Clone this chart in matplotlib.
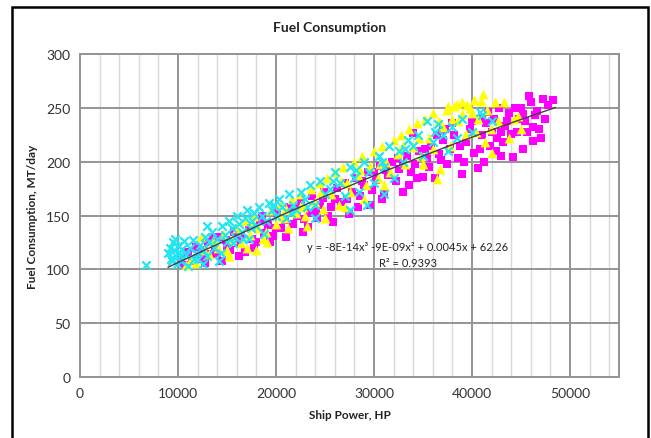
import numpy as np
import matplotlib
matplotlib.use("Agg")
from matplotlib import pyplot as plt
from matplotlib.patches import Rectangle
from matplotlib.ticker import MultipleLocator

plt.rcParams["font.family"] = ["Lato", "DejaVu Sans"]

# ship power (HP) / fuel consumption (MT/day)
mag_x = [10300, 10600, 11000, 11400, 11800, 12100, 12400, 12800, 13100, 13400,
         13800, 14200, 14500, 14900, 15300, 15700, 16100, 16400, 16800, 17200,
         17600, 18000, 18400, 18800, 19200, 19700, 20100, 20500, 20900, 21300,
         21700, 22100, 22500, 22900, 23300, 23700, 24100, 24500, 24900, 25300,
         25800, 26200, 26600, 27000, 27400, 27800, 28200, 28600, 29000, 29400,
         29800, 30200, 30600, 31000, 31400, 31800, 32200, 32600, 33000, 33400,
         33800, 34200, 34600, 35000, 35400, 35800, 36200, 36600, 37000, 37400,
         37800, 38200, 38600, 39000, 39400, 39800, 40200, 40600, 41000, 41400,
         41800, 42200, 42600, 43000, 43400, 43800, 44200, 44600, 45000, 45400,
         45800, 46200, 46600, 47000, 47400, 47800, 48300,
         40000, 40800, 41200, 41600, 42000, 42400, 42800, 43200, 43600, 44000,
         44400, 44800, 45200, 45600, 46000, 46400, 46800, 47200, 39200, 38000,
         37200, 36400, 35600, 34400, 33600, 32400, 30800, 29600, 28400, 27200,
         25600, 24200, 22800, 21000, 19400, 17800, 16200, 13600, 12600, 34000,
         37000, 22000, 23500, 26000, 28800, 31200, 33000, 35200, 38800, 41000,
         43000, 45200, 46200, 20000, 18600, 15000, 14000, 24800, 30000, 36800]
mag_y = [110, 104, 116, 108, 121, 112, 118, 106, 125, 114,
         120, 130, 108, 127, 118, 135, 124, 131, 116, 140,
         128, 125, 145, 134, 141, 131, 152, 138, 146, 158,
         142, 150, 162, 147, 139, 168, 155, 160, 172, 150,
         144, 176, 163, 180, 151, 172, 185, 168, 178, 190,
         174, 183, 196, 170, 188, 200, 182, 193, 172, 205,
         190, 198, 210, 186, 203, 215, 185, 207, 220, 198,
         212, 225, 203, 189, 218, 230, 208, 194, 225, 236,
         215, 240, 222, 205, 233, 245, 204, 228, 250, 238,
         261, 232, 247, 222, 240, 253, 257,
         238, 212, 200, 246, 228, 210, 250, 218, 238, 226,
         250, 240, 212, 228, 255, 243, 230, 258, 200, 236,
         230, 225, 195, 185, 178, 203, 165, 160, 158, 165,
         158, 148, 135, 130, 125, 120, 112, 130, 110, 227,
         229, 160, 152, 165, 182, 192, 198, 212, 215, 240,
         228, 244, 219, 138, 150, 122, 115, 166, 190, 202]

yel_x = [10800, 11300, 11800, 12300, 12700, 13200, 13600, 14100, 14600, 15000,
         15500, 16000, 16400, 16900, 17300, 17800, 18200, 18700, 19100, 19500,
         20000, 20400, 20800, 21200, 21600, 22000, 22400, 22800, 23200, 23600,
         24000, 24400, 24800, 25200, 25600, 26000, 26400, 26800, 27200, 27600,
         28000, 28400, 28800, 29200, 29600, 30000, 30400, 30800, 31200, 31600,
         32000, 32400, 32800, 33200, 33600, 34000, 34400, 34800, 35200, 35600,
         36000, 36400, 36700, 37000, 37400, 37800, 38200, 38600, 39000, 39400,
         39800, 40200, 40600, 41100, 41500, 41900, 42300, 42700, 43300, 43800,
         44300, 44700, 45000, 38500, 39500, 40000, 40900, 41300, 42000, 36000,
         35000, 33000, 31000, 29000, 27000, 25000, 23000, 21000, 19000, 18000,
         17000, 15200, 22500, 24600, 26600, 28600, 30600, 32600, 34600, 36600,
         38000, 39000, 40400, 37600, 20600, 17600]
yel_y = [104, 110, 106, 130, 118, 114, 126, 120, 133, 118,
         128, 138, 124, 145, 132, 150, 138, 128, 125, 155,
         142, 160, 148, 138, 165, 152, 170, 158, 140, 175,
         163, 180, 156, 185, 170, 190, 160, 195, 180, 172,
         200, 188, 205, 178, 196, 210, 185, 215, 200, 190,
         220, 207, 225, 198, 230, 214, 236, 205, 240, 222,
         245, 184, 193, 232, 248, 215, 252, 238, 255, 226,
         250, 257, 240, 263, 248, 230, 255, 238, 255, 222,
         240, 242, 230, 254, 253, 245, 256, 218, 208, 212,
         198, 215, 178, 165, 158, 148, 150, 156, 135, 118,
         120, 112, 160, 172, 182, 192, 198, 210, 222, 238,
         240, 244, 228, 252, 150, 140]

cyan_x = [6700, 9000, 9200, 9300, 9500, 9600, 9800, 9900, 10000, 10100,
          10300, 10400, 10600, 10800, 11000, 11200, 11500, 11800, 12000, 12200,
          12500, 12800, 13000, 13200, 13500, 13700, 14000, 14200, 14500, 14800,
          15000, 15200, 15500, 15800, 16000, 16200, 16500, 16800, 17000, 17200,
          17500, 17800, 18000, 18300, 18600, 19000, 19300, 19600, 20000, 20300,
          20600, 21000, 21300, 21700, 22000, 22500, 23000, 23500, 24000, 24500,
          25000, 25500, 26000, 26500, 27000, 27500, 28000, 28500, 29000, 29500,
          30000, 30500, 31000, 31500, 32000, 32500, 33000, 33500, 34000, 34500,
          35000, 35400, 36000, 36500, 37000, 37500, 38000, 38500, 39000, 40000,
          40800, 41000, 42000, 29300, 27500, 31000, 24000, 9400, 9700, 10200,
          11600, 12600, 14400, 16600, 18800, 13000, 15600, 17400, 19800, 21500,
          23200, 25800, 28200, 30800, 33200, 36200]
cyan_y = [104, 115, 120, 110, 125, 118, 112, 105, 122, 116,
          108, 119, 126, 113, 103, 120, 127, 115, 110, 123,
          118, 130, 112, 125, 135, 120, 128, 108, 140, 132,
          125, 145, 138, 130, 150, 142, 135, 148, 155, 128,
          145, 152, 140, 158, 150, 145, 162, 155, 150, 165,
          158, 148, 170, 160, 155, 172, 165, 178, 160, 182,
          170, 175, 190, 180, 168, 195, 185, 172, 200, 190,
          180, 205, 195, 215, 185, 210, 200, 220, 215, 225,
          205, 238, 218, 235, 225, 210, 232, 222, 240, 228,
          246, 243, 238, 160, 155, 170, 148, 108, 128, 112,
          110, 105, 115, 128, 133, 140, 124, 138, 160, 152,
          158, 182, 192, 200, 212, 228]

# polynomial trendline shown on the chart (highest power first)
trend_coef = [-8e-14, -9e-09, 0.0045, 62.26]
trend_range = [9000, 48500]

fig = plt.figure(figsize=(6.51, 4.39), dpi=100)
ax = fig.add_axes([80 / 651, 1 - 378 / 439, 539 / 651, 323 / 439])

ax.scatter(mag_x, mag_y, marker="s", s=38, color="#ff00ff", lw=0, zorder=3)
ax.scatter(yel_x, yel_y, marker="^", s=50, color="#ffff00", lw=0, zorder=4)
ax.scatter(cyan_x, cyan_y, marker="x", s=36, color="#22e5f2", lw=1.6, zorder=5)

tx = np.linspace(trend_range[0], trend_range[1], 200)
ax.plot(tx, np.polyval(trend_coef, tx), color="#404040", lw=1, zorder=6)

ax.set_xlim(0, 55000)
ax.set_ylim(0, 300)
ax.xaxis.set_major_locator(MultipleLocator(10000))
ax.xaxis.set_minor_locator(MultipleLocator(2000))
ax.yaxis.set_major_locator(MultipleLocator(50))
ax.grid(which="major", color="#949494", lw=1.4, zorder=0)
ax.grid(which="minor", axis="x", color="#d9d9d9", lw=1, zorder=0)
ax.set_axisbelow(True)
for s in ax.spines.values():
    s.set_color("#949494")
    s.set_linewidth(1.4)
ax.tick_params(which="both", length=0, labelsize=10, colors="#333333", pad=7)

fig.text(0.507, 1 - 28 / 439, "Fuel Consumption", ha="center", va="center",
         fontsize=10, fontweight="bold", color="#222222")
fig.text(350 / 651, 1 - 416 / 439, "Ship Power, HP", ha="center", va="center",
         fontsize=8.5, fontweight="bold", color="#222222")
fig.text(33 / 651, 1 - 217 / 439, "Fuel Consumption, MT/day", ha="center",
         va="center", rotation=90, fontsize=8.5, fontweight="bold",
         color="#222222")
fig.text(408 / 651, 1 - 248 / 439, "y = -8E-14x³ -9E-09x² + 0.0045x + 62.26",
         ha="center", va="center", fontsize=8, color="#222222")
fig.text(408 / 651, 1 - 264 / 439, "R² = 0.9393", ha="center", va="center",
         fontsize=8, color="#222222")

fig.patches.append(Rectangle((12 / 651, -0.05), 636 / 651, 1.05 - 8 / 439,
                             transform=fig.transFigure, fill=False,
                             ec="black", lw=1.8, clip_on=False))

fig.savefig("out.png", dpi=100)
